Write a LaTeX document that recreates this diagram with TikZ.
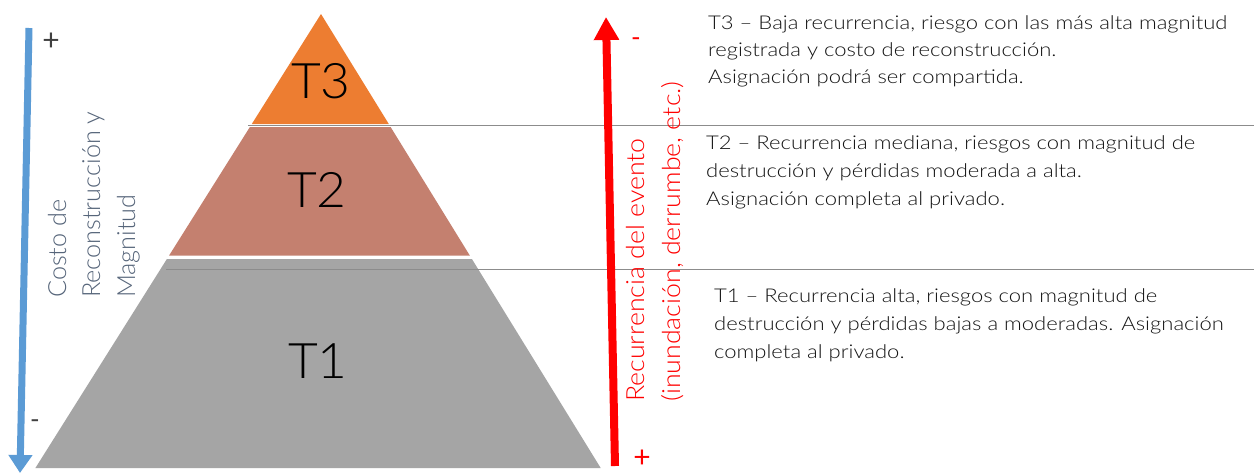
\documentclass[tikz,border=0pt]{standalone}
\usepackage{fontspec}
\setmainfont{Lato}
\newfontfamily\descfont{Lato Light}[FakeStretch=1.16]
\newfontfamily\axfont{Lato Light}[FakeStretch=1.07]
\newfontfamily\axbfont{Lato Light}[FakeStretch=1.01]
\newfontfamily\tierfont{Lato Light}[FakeStretch=1.05]
\usetikzlibrary{arrows.meta}
\definecolor{orangeT}{HTML}{ED7D31}
\definecolor{roseT}{HTML}{C4806F}
\definecolor{grayT}{HTML}{A5A5A5}
\definecolor{blueA}{HTML}{5B9BD5}
\definecolor{slate}{HTML}{56657A}
\definecolor{redA}{HTML}{FF0000}
\definecolor{rulec}{HTML}{8C8C8C}
\begin{document}
\begin{tikzpicture}[x=1pt,y=-1pt,
  tier/.style={font=\tierfont\fontsize{49}{50}\selectfont, text=black, inner sep=0pt},
  desc/.style={font=\descfont\fontsize{19}{27}\selectfont, text=black!92, anchor=base west, inner sep=0pt},
  axlbl/.style={font=\axfont\fontsize{25}{35}\selectfont, rotate=90, anchor=base west, inner sep=0pt},
  sign/.style={font=\fontsize{30}{32}\selectfont, inner sep=0pt},
  sepline/.style={draw=rulec, line width=1.5pt}]
\path[fill=white, use as bounding box] (0,0) rectangle (1254,474);
% pyramid
\fill[grayT] (166.9,259) -- (471.9,259) -- (600.7,468) -- (35.4,468) -- cycle;
\fill[roseT] (249.9,127) -- (390.6,127) -- (469.8,255.5) -- (169.1,255.5) -- cycle;
\fill[orangeT] (321,14) -- (388.8,124) -- (251.8,124) -- cycle;
\node[tier] (t3) at (321,81) {T3};
\node[tier] (t2) at (317,190) {T2};
\node[tier] (t1) at (318,361) {T1};
% separators
\coordinate (s1a) at (248,125.5); \coordinate (s1b) at (1254,125.5);
\coordinate (s2a) at (166,269.5); \coordinate (s2b) at (1254,269.5);
\draw[sepline] (s1a) -- (s1b);
\draw[sepline] (s2a) -- (s2b);
% blue arrow
\coordinate (b0) at (29,28); \coordinate (b1) at (20,473);
\draw[blueA, line width=7pt, -{Triangle[width=23pt,length=18pt]}] (b0) -- (b1);
\node[sign, text=black!75] (bplus) at (51,42) {+};
\node[sign, text=black!75, font=\fontsize{26}{28}\selectfont] (bminus) at (35,424) {-};
\node[axlbl, font=\axbfont\fontsize{25}{35}\selectfont, text=slate] (bl1) at (66,298) {Costo de};
\node[axlbl, font=\axbfont\fontsize{25}{35}\selectfont, text=slate] (bl2) at (100,298) {Reconstrucción y};
\node[axlbl, font=\axbfont\fontsize{25}{35}\selectfont, text=slate] (bl3) at (135,298) {Magnitud};
% red arrow
\coordinate (r0) at (615,466); \coordinate (r1) at (606,17);
\draw[redA, line width=8pt, -{Triangle[width=24pt,length=23pt]}] (r0) -- (r1);
\node[sign, text=redA, font=\fontsize{26}{28}\selectfont] (rminus) at (636,42) {-};
\node[sign, text=redA] (rplus) at (642,459) {+};
\node[axlbl, text=redA] (rl1) at (644,402) {Recurrencia del evento};
\node[axlbl, text=redA] (rl2) at (680,402) {(inundación, derrumbe, etc.)};
% descriptions
\node[desc] (d31) at (708,29) {T3 – Baja recurrencia, riesgo con las más alta magnitud};
\node[desc] (d32) at (708,56) {registrada y costo de reconstrucción.};
\node[desc] (d33) at (708,83) {Asignación podrá ser compartida.};
\node[desc] (d21) at (706,149) {T2 – Recurrencia mediana, riesgos con magnitud de};
\node[desc] (d22) at (706,177) {destrucción y pérdidas moderada a alta.};
\node[desc] (d23) at (706,205) {Asignación completa al privado.};
\node[desc] (d11) at (714,302) {T1 – Recurrencia alta, riesgos con magnitud de};
\node[desc] (d12) at (714,330) {destrucción y pérdidas bajas a moderadas. Asignación};
\node[desc] (d13) at (714,358) {completa al privado.};
\end{tikzpicture}
\end{document}
